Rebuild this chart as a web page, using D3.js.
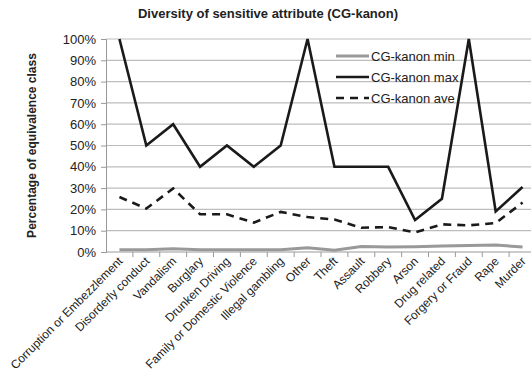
<!DOCTYPE html>
<html>
<head>
<meta charset="utf-8">
<script src="https://cdn.jsdelivr.net/npm/d3@7"></script>
<style>
  body { margin: 0; background: #fff; }
  text { font-family: Arial, "Liberation Sans", sans-serif; fill: #222; }
</style>
</head>
<body>
<svg id="chart"></svg>
<script>
// crime categories on the x axis
const categories = ["Corruption or Embezzlement", "Disorderly conduct", "Vandalism", "Burglary",
  "Drunken Driving", "Family or Domestic Violence", "Illegal gambling", "Other", "Theft",
  "Assault", "Robbery", "Arson", "Drug related", "Forgery or Fraud", "Rape", "Murder"];

// percentages
const minValues = [1, 1, 1.5, 1, 1, 1, 1, 2, 0.8, 2.6, 2.3, 2.5, 2.8, 3, 3.3, 2.3];
const maxValues = [100, 50, 60, 40, 50, 40, 50, 100, 40, 40, 40, 15, 25, 100, 19, 30.5];
const aveValues = [25.8, 20.4, 29.8, 17.7, 17.7, 13.8, 18.8, 16.4, 15.2, 11.4, 11.7, 9.2, 13, 12.5, 13.6, 23.2];

const yTicks = [0, 10, 20, 30, 40, 50, 60, 70, 80, 90, 100];

const seriesNames = ["CG-kanon min", "CG-kanon max", "CG-kanon ave"];

const width = 531, height = 378;
const margin = {top: 39, left: 106, bottom: 126};
const plotRight = 536;  // plot runs a little past the right edge, like the original crop

const svg = d3.select("#chart").attr("width", width).attr("height", height);

const x = d3.scaleBand().domain(categories).range([margin.left, plotRight]);
const y = d3.scaleLinear().domain([0, 100]).range([height - margin.bottom, margin.top]);

// title
svg.append("text")
  .attr("x", 268).attr("y", 18)
  .attr("text-anchor", "middle")
  .style("font-weight", "bold").style("font-size", "13px")
  .text("Diversity of sensitive attribute (CG-kanon)");

// y axis title
svg.append("text")
  .attr("transform", `translate(36, ${(y(0) + y(100)) / 2}) rotate(-90)`)
  .attr("text-anchor", "middle")
  .style("font-weight", "bold").style("font-size", "12px")
  .text("Percentage of equivalence class");

// gridlines
svg.append("g").selectAll("line")
  .data(yTicks.filter(d => d > 0))
  .join("line")
    .attr("x1", margin.left).attr("x2", plotRight)
    .attr("y1", d => y(d)).attr("y2", d => y(d))
    .attr("stroke", "#bdbdbd").attr("stroke-width", 1.2);

// y axis
const yAxis = svg.append("g")
  .attr("transform", `translate(${margin.left},0)`)
  .call(d3.axisLeft(y).tickValues(yTicks).tickSize(5).tickFormat(d => d + "%"));
yAxis.selectAll("line, path").attr("stroke", "#999");
yAxis.selectAll("text").style("font-size", "13px").attr("x", -10).attr("fill", "#222");

// x axis: ticks sit between categories
const xAxis = svg.append("g").attr("transform", `translate(0,${y(0)})`);
xAxis.append("line")
  .attr("x1", margin.left).attr("x2", plotRight)
  .attr("stroke", "#999").attr("stroke-width", 1.2);
xAxis.selectAll(".tk")
  .data(categories.slice(1))
  .join("line")
    .attr("class", "tk")
    .attr("x1", d => x(d)).attr("x2", d => x(d))
    .attr("y1", 0).attr("y2", 5)
    .attr("stroke", "#999");
xAxis.selectAll(".lbl")
  .data(categories)
  .join("text")
    .attr("class", "lbl")
    .attr("text-anchor", "end")
    .style("font-size", "12px")
    .attr("transform", d => `translate(${x(d) + x.bandwidth() / 2 + 4},${10}) rotate(-45)`)
    .text(d => d);

// lines
const line = d3.line()
  .x((d, i) => x(categories[i]) + x.bandwidth() / 2)
  .y(d => y(d));

const series = [
  {name: seriesNames[0], values: minValues, color: "#999", width: 3, dash: null},
  {name: seriesNames[1], values: maxValues, color: "#1a1a1a", width: 2.6, dash: null},
  {name: seriesNames[2], values: aveValues, color: "#1a1a1a", width: 2.6, dash: "8,6"}
];

svg.append("g").selectAll("path")
  .data(series)
  .join("path")
    .attr("d", d => line(d.values))
    .attr("fill", "none")
    .attr("stroke", d => d.color)
    .attr("stroke-width", d => d.width)
    .attr("stroke-dasharray", d => d.dash)
    .attr("stroke-linejoin", "miter");

// legend
const legend = svg.append("g").attr("transform", "translate(336,56)");
const rows = legend.selectAll("g")
  .data(series)
  .join("g")
    .attr("transform", (d, i) => `translate(0,${i * 21})`);
rows.append("line")
  .attr("x1", 0).attr("x2", 33)
  .attr("stroke", d => d.color)
  .attr("stroke-width", d => d.width)
  .attr("stroke-dasharray", d => d.dash);
rows.append("text")
  .attr("x", 35).attr("y", 4.5)
  .style("font-size", "13px")
  .text(d => d.name);
</script>
</body>
</html>
